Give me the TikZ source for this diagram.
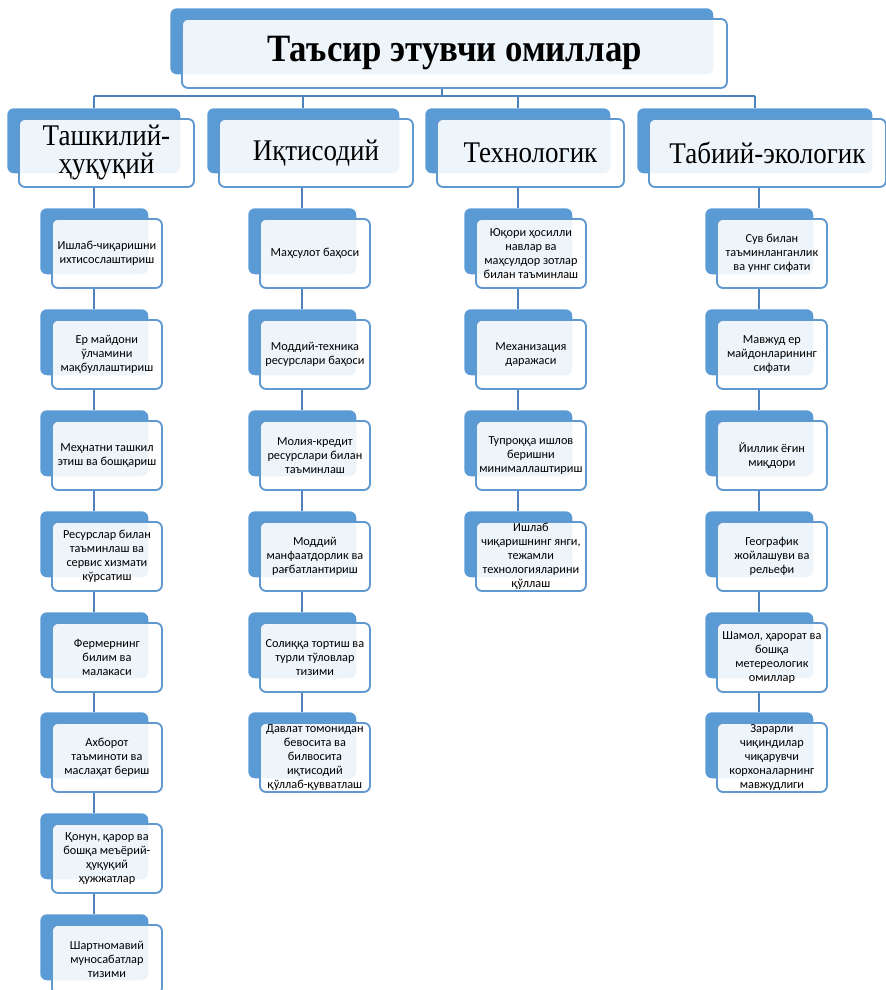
\documentclass[tikz,border=0pt]{standalone}
\usepackage{fontspec}
\setmainfont{Carlito}
\newfontfamily\hfont[FakeStretch=0.9]{Liberation Serif}
\usetikzlibrary{backgrounds}
\definecolor{tabblue}{RGB}{91,155,213}
\definecolor{edgeblue}{RGB}{96,152,208}
\definecolor{lineblue}{RGB}{79,129,189}
\tikzset{
  tabbox/.style={anchor=north west,fill=tabblue,draw=none,rounded corners=5pt,inner sep=0pt},
  frontbox/.style={anchor=north west,fill=white,fill opacity=0.9,text opacity=1,draw=edgeblue,line width=1.4pt,rounded corners=4.5pt,inner sep=0pt,align=center},
  small/.style={font=\fontsize{9.2}{10.4}\selectfont},
  cat/.style={font=\hfont\fontsize{22.5}{21}\selectfont},
  ttl/.style={font=\hfont\bfseries\fontsize{29}{32}\selectfont},
  conn/.style={draw=lineblue,line width=1.5pt}
}
\newcommand\bx[7]{%
  \node[tabbox,minimum width={(#4-2)*0.75pt},minimum height={(#5-3)*0.75pt}] (#1t) at (#2-11,#3-10) {};
  \node[frontbox,#6,minimum width={#4*0.75pt},minimum height={#5*0.75pt}] (#1) at (#2,#3) {#7};}
\begin{document}
\begin{tikzpicture}[x=0.75pt,y=-0.75pt]
\useasboundingbox (0,0) rectangle (886,990);
\coordinate (bar) at (0,96);
% top
\bx{top}{181}{18}{545}{69}{ttl}{Таъсир этувчи омиллар}
% categories
\bx{c1}{18}{118}{175}{68}{cat}{Ташкилий-\\ҳуқуқий}
\bx{c2}{218}{118}{194}{68}{cat}{Иқтисодий}
\bx{c3}{436}{118}{187}{68}{cat}{Технологик}
\bx{c4}{648}{118}{237}{68}{cat}{Табиий-экологик}
% column 1
\bx{a1}{51}{218}{110}{69}{small}{Ишлаб-чиқаришни\\ихтисослаштириш}
\bx{a2}{51}{319}{110}{69}{small}{Ер майдони\\ўлчамини\\мақбуллаштириш}
\bx{a3}{51}{420}{110}{69}{small}{Меҳнатни ташкил\\этиш ва бошқариш}
\bx{a4}{51}{521}{110}{69}{small}{Ресурслар билан\\таъминлаш ва\\сервис хизмати\\кўрсатиш}
\bx{a5}{51}{622}{110}{69}{small}{Фермернинг\\билим ва\\малакаси}
\bx{a6}{51}{722}{110}{69}{small}{Ахборот\\таъминоти ва\\маслаҳат бериш}
\bx{a7}{51}{823}{110}{69}{small}{Қонун, қарор ва\\бошқа меъёрий-\\ҳуқуқий\\ҳужжатлар}
\bx{a8}{51}{924}{110}{69}{small}{Шартномавий\\муносабатлар\\тизими}
% column 2
\bx{b1}{259}{218}{110}{69}{small}{Маҳсулот баҳоси}
\bx{b2}{259}{319}{110}{69}{small}{Моддий-техника\\ресурслари баҳоси}
\bx{b3}{259}{420}{110}{69}{small}{Молия-кредит\\ресурслари билан\\таъминлаш}
\bx{b4}{259}{521}{110}{69}{small}{Моддий\\манфаатдорлик ва\\рағбатлантириш}
\bx{b5}{259}{622}{110}{69}{small}{Солиққа тортиш ва\\турли тўловлар\\тизими}
\bx{b6}{259}{722}{110}{69}{small}{Давлат томонидан\\бевосита ва\\билвосита\\иқтисодий\\қўллаб-қувватлаш}
% column 3
\bx{d1}{475}{218}{110}{69}{small}{Юқори ҳосилли\\навлар ва\\маҳсулдор зотлар\\билан таъминлаш}
\bx{d2}{475}{319}{110}{69}{small}{Механизация\\даражаси}
\bx{d3}{475}{420}{110}{69}{small}{Тупроққа ишлов\\беришни\\минималлаштириш}
\bx{d4}{475}{521}{110}{69}{small}{Ишлаб\\чиқаришнинг янги,\\тежамли\\технологияларини\\қўллаш}
% column 4
\bx{e1}{716}{218}{110}{69}{small}{Сув билан\\таъминланганлик\\ва уннг сифати}
\bx{e2}{716}{319}{110}{69}{small}{Мавжуд ер\\майдонларининг\\сифати}
\bx{e3}{716}{420}{110}{69}{small}{Йиллик ёғин\\миқдори}
\bx{e4}{716}{521}{110}{69}{small}{Географик\\жойлашуви ва\\рельефи}
\bx{e5}{716}{622}{110}{69}{small}{Шамол, ҳарорат ва\\бошқа\\метереологик\\омиллар}
\bx{e6}{716}{722}{110}{69}{small}{Зарарли\\чиқиндилар\\чиқарувчи\\корхоналарнинг\\мавжудлиги}
\begin{pgfonlayer}{background}
\draw[conn] (top.south -| topt.center) -- (topt.center |- bar);
\draw[conn] (c1t.north |- bar) -- (c4t.north |- bar);
\foreach \c in {c1,c2,c3,c4}{\draw[conn] (\c t.north |- bar) -- (\c t.north);}
\draw[conn] (a1t.north |- c1.south) -- (a1t.north);
\draw[conn] (b1t.north |- c2.south) -- (b1t.north);
\draw[conn] (d1t.north |- c3.south) -- (d1t.north);
\draw[conn] (e1t.north |- c4.south) -- (e1t.north);
\foreach \p/\q in {a1/a2,a2/a3,a3/a4,a4/a5,a5/a6,a6/a7,a7/a8,b1/b2,b2/b3,b3/b4,b4/b5,b5/b6,d1/d2,d2/d3,d3/d4,e1/e2,e2/e3,e3/e4,e4/e5,e5/e6}{\draw[conn] (\p.south -| \q t.north) -- (\q t.north);}
\end{pgfonlayer}
\end{tikzpicture}
\end{document}
